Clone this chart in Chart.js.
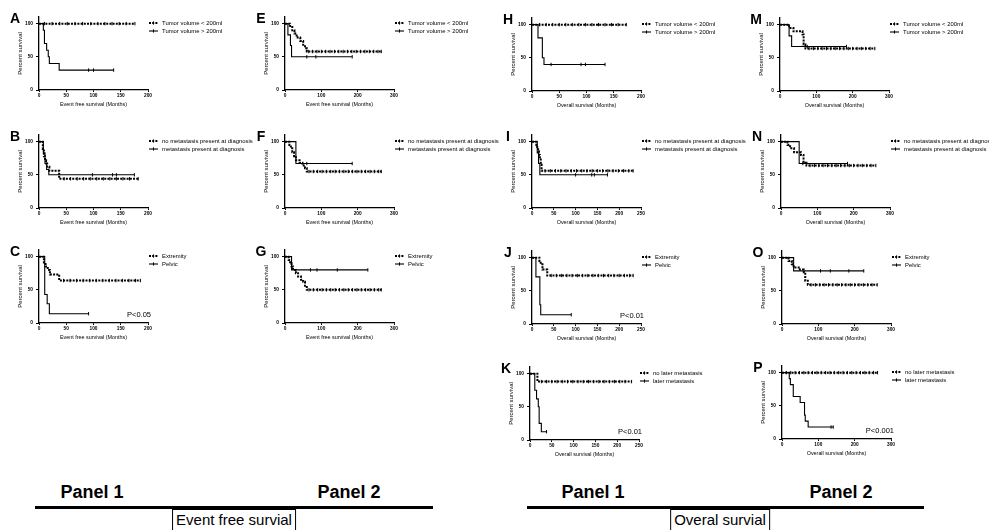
<!DOCTYPE html>
<html>
<head>
<meta charset="utf-8">
<script src="https://cdn.jsdelivr.net/npm/chart.js@4.4.1/dist/chart.umd.min.js"></script>
<style>
  html, body { margin: 0; padding: 0; background: #fff; }
  body { position: relative; width: 989px; height: 530px; overflow: hidden; }
  canvas { position: absolute; }
  .pname, .section { position: absolute; transform: translate(-50%, -50%); white-space: nowrap; color: #000;
    font-family: "Liberation Sans Narrow", "Arial Narrow", Arial, sans-serif; }
  .pname { font-weight: bold; font-size: 18px; }
  .section { font-size: 15px; border: 1px solid #000; padding: 1px 3px; line-height: 18px; }
  .rule { position: absolute; height: 3px; background: #000; }
</style>
</head>
<body>
<div class="pname" style="left:92px;top:492px">Panel 1</div>
<div class="pname" style="left:349px;top:492px">Panel 2</div>
<div class="rule" style="left:35px;top:506px;width:398px"></div>
<div class="section" style="left:234px;top:520px">Event free survial</div>
<div class="pname" style="left:593px;top:492px">Panel 1</div>
<div class="pname" style="left:841px;top:492px">Panel 2</div>
<div class="rule" style="left:527px;top:506px;width:397px"></div>
<div class="section" style="left:720px;top:520px">Overal survial</div>
<script>
// axis ticks
const yTicks = [0, 50, 100];
const ticks200 = [0, 50, 100, 150, 200];
const ticks250 = [0, 50, 100, 150, 200, 250];
const ticks300 = [0, 100, 200, 300];

const efsTitle = 'Event free survival (Months)';
const osTitle = 'Overall survival (Months)';

const volumeLabels = ['Tumor volume < 200ml', 'Tumor volume > 200ml'];
const metLabels = ['no metastasis present at diagnosis', 'metastasis present at diagnosis'];
const siteLabels = ['Extremity', 'Pelvic'];
const laterLabels = ['no later metastasis', 'later metastasis'];

// A - EFS, tumor volume
const aLowT = [0, 176];
const aLowS = [100, 100];
const aLowC = [10, 24, 38, 52, 66, 80, 95, 108, 121, 134, 147, 160, 176];
const aHighT = [0, 8, 10, 14, 17, 19, 37, 137];
const aHighS = [100, 90, 70, 60, 50, 40, 30, 30];
const aHighC = [91, 100, 137];

// B - EFS, metastasis at diagnosis
const bNoT = [0, 7, 9, 11, 13, 15, 19, 37, 182];
const bNoS = [100, 89, 78, 72, 67, 62, 56, 44, 44];
const bNoC = [46, 58, 70, 82, 94, 106, 118, 130, 142, 154, 166, 182];
const bMetT = [0, 8, 11, 14, 18, 175];
const bMetS = [100, 83, 67, 58, 50, 50];
const bMetC = [98, 135, 142, 175];

// C - EFS, site
const cExtT = [0, 9, 12, 16, 20, 37, 186];
const cExtS = [100, 91, 85, 80, 73, 64, 64];
const cExtC = [45, 57, 69, 81, 93, 105, 117, 129, 141, 153, 165, 177, 186];
const cPelT = [0, 10.5, 15, 19, 91];
const cPelS = [100, 43, 29, 14, 14];
const cPelC = [91];

// E - EFS, tumor volume
const eLowT = [0, 14, 20, 26, 32, 42, 50, 55, 60, 265];
const eLowS = [100, 95, 90, 85, 79, 74, 68, 63, 58, 58];
const eLowC = [64, 76, 88, 100, 112, 124, 136, 148, 160, 172, 184, 196, 208, 220, 232, 244, 256, 265];
const eHighT = [0, 8, 15, 18, 185];
const eHighS = [100, 83, 67, 50, 50];
const eHighC = [60, 85, 185];

// F - EFS, metastasis at diagnosis
const fNoT = [0, 12, 16, 20, 25, 30, 40, 48, 55, 60, 265];
const fNoS = [100, 95, 90, 84, 78, 72, 68, 64, 60, 55, 55];
const fNoC = [66, 78, 90, 102, 114, 126, 138, 150, 162, 174, 186, 198, 210, 222, 234, 246, 258, 265];
const fMetT = [0, 30, 185];
const fMetS = [100, 67, 67];
const fMetC = [60, 185];

// G - EFS, site
const gExtT = [0, 10, 14, 18, 22, 30, 36, 44, 50, 55, 60, 265];
const gExtS = [100, 95, 90, 85, 80, 75, 70, 65, 62, 56, 50, 50];
const gExtC = [66, 78, 90, 102, 114, 126, 138, 150, 162, 174, 186, 198, 210, 222, 234, 246, 258, 265];
const gPelT = [0, 18, 228];
const gPelS = [100, 80, 80];
const gPelC = [70, 88, 144, 228];

// H - OS, tumor volume
const hLowT = [0, 173];
const hLowS = [100, 100];
const hLowC = [14, 26, 38, 50, 62, 74, 86, 98, 110, 122, 134, 146, 158, 173];
const hHighT = [0, 11, 19, 22, 134];
const hHighS = [100, 80, 50, 40, 40];
const hHighC = [35, 90, 98, 134];

// I - OS, metastasis at diagnosis
const iNoT = [0, 10, 12, 14, 16, 18, 20, 22, 232];
const iNoS = [100, 95, 90, 85, 80, 75, 65, 56, 56];
const iNoC = [30, 42, 54, 66, 78, 90, 102, 114, 126, 138, 150, 162, 174, 186, 198, 210, 222, 232];
const iMetT = [0, 12, 15, 18, 173];
const iMetS = [100, 83, 67, 50, 50];
const iMetC = [100, 137, 143, 173];

// J - OS, site
const jExtT = [0, 17, 20, 24, 35, 232];
const jExtS = [100, 95, 90, 82, 73, 73];
const jExtC = [44, 56, 68, 80, 92, 104, 116, 128, 140, 152, 164, 176, 188, 200, 212, 224, 232];
const jPelT = [0, 9, 18, 20, 90];
const jPelS = [100, 71, 29, 14, 14];
const jPelC = [90];

// K - OS, later metastasis
const kNoT = [0, 17, 233];
const kNoS = [100, 88, 88];
const kNoC = [26, 38, 50, 62, 74, 86, 98, 110, 122, 134, 146, 158, 170, 182, 194, 206, 218, 233];
const kLaterT = [0, 11, 15, 19, 21, 26, 38];
const kLaterS = [100, 75, 62, 50, 25, 12.5, 12.5];
const kLaterC = [38];

// M - OS, tumor volume
const mLowT = [0, 25, 37, 62, 65, 70, 261];
const mLowS = [100, 95, 90, 85, 70, 64, 64];
const mLowC = [80, 92, 104, 116, 128, 140, 152, 164, 176, 188, 200, 212, 224, 236, 248, 261];
const mHighT = [0, 25, 32, 183];
const mHighS = [100, 83, 67, 67];
const mHighC = [75, 183];

// N - OS, metastasis at diagnosis
const nNoT = [0, 18, 25, 36, 55, 62, 70, 261];
const nNoS = [100, 95, 90, 84, 80, 68, 64, 64];
const nNoC = [80, 92, 104, 116, 128, 140, 152, 164, 176, 188, 200, 212, 224, 236, 248, 261];
const nMetT = [0, 50, 183];
const nMetS = [100, 67, 67];
const nMetC = [60, 183];

// O - OS, site
const oExtT = [0, 18, 27, 32, 46, 60, 64, 71, 262];
const oExtS = [100, 95, 90, 85, 82, 78, 65, 59, 59];
const oExtC = [80, 92, 104, 116, 128, 140, 152, 164, 176, 188, 200, 212, 224, 236, 248, 262];
const oPelT = [0, 32, 225];
const oPelS = [100, 80, 80];
const oPelC = [106, 133, 184, 225];

// P - OS, later metastasis
const pNoT = [0, 263];
const pNoS = [100, 100];
const pNoC = [12, 24, 36, 48, 60, 72, 84, 96, 108, 120, 132, 144, 156, 168, 180, 192, 204, 216, 228, 240, 252, 263];
const pLaterT = [0, 20, 23, 31, 50, 62, 64, 72, 141];
const pLaterS = [100, 91, 82, 64, 55, 36, 27, 18, 18];
const pLaterC = [135, 141];

// layout: x0 / y0 = pixel position of the axis origin on the page
const panels = [
  { letter: 'A', x0: 39,  y0: 90,  xTicks: ticks200, xTitle: efsTitle, labels: volumeLabels, groups: [[aLowT, aLowS, aLowC], [aHighT, aHighS, aHighC]] },
  { letter: 'B', x0: 39,  y0: 208, xTicks: ticks200, xTitle: efsTitle, labels: metLabels, groups: [[bNoT, bNoS, bNoC], [bMetT, bMetS, bMetC]] },
  { letter: 'C', x0: 39,  y0: 323, xTicks: ticks200, xTitle: efsTitle, labels: siteLabels, groups: [[cExtT, cExtS, cExtC], [cPelT, cPelS, cPelC]], p: 'P<0.05' },
  { letter: 'E', x0: 285, y0: 90,  xTicks: ticks300, xTitle: efsTitle, labels: volumeLabels, groups: [[eLowT, eLowS, eLowC], [eHighT, eHighS, eHighC]] },
  { letter: 'F', x0: 285, y0: 208, xTicks: ticks300, xTitle: efsTitle, labels: metLabels, groups: [[fNoT, fNoS, fNoC], [fMetT, fMetS, fMetC]] },
  { letter: 'G', x0: 285, y0: 323, xTicks: ticks300, xTitle: efsTitle, labels: siteLabels, groups: [[gExtT, gExtS, gExtC], [gPelT, gPelS, gPelC]] },
  { letter: 'H', x0: 532, y0: 91,  xTicks: ticks200, xTitle: osTitle, labels: volumeLabels, groups: [[hLowT, hLowS, hLowC], [hHighT, hHighS, hHighC]] },
  { letter: 'I', x0: 532, y0: 208, xTicks: ticks250, xTitle: osTitle, labels: metLabels, groups: [[iNoT, iNoS, iNoC], [iMetT, iMetS, iMetC]] },
  { letter: 'J', x0: 532, y0: 324, xTicks: ticks250, xTitle: osTitle, labels: siteLabels, groups: [[jExtT, jExtS, jExtC], [jPelT, jPelS, jPelC]], p: 'P<0.01' },
  { letter: 'K', x0: 530, y0: 440, xTicks: ticks250, xTitle: osTitle, labels: laterLabels, groups: [[kNoT, kNoS, kNoC], [kLaterT, kLaterS, kLaterC]], p: 'P<0.01' },
  { letter: 'M', x0: 780, y0: 91,  xTicks: ticks300, xTitle: osTitle, labels: volumeLabels, groups: [[mLowT, mLowS, mLowC], [mHighT, mHighS, mHighC]] },
  { letter: 'N', x0: 781, y0: 208, xTicks: ticks300, xTitle: osTitle, labels: metLabels, groups: [[nNoT, nNoS, nNoC], [nMetT, nMetS, nMetC]] },
  { letter: 'O', x0: 782, y0: 324, xTicks: ticks300, xTitle: osTitle, labels: siteLabels, groups: [[oExtT, oExtS, oExtC], [oPelT, oPelS, oPelC]] },
  { letter: 'P', x0: 782, y0: 439, xTicks: ticks300, xTitle: osTitle, labels: laterLabels, groups: [[pNoT, pNoS, pNoC], [pLaterT, pLaterS, pLaterC]], p: 'P<0.001' },
];

const FONT = 'Arial, "Liberation Sans", Helvetica, sans-serif';
const PAD_L = 2, PAD_T = 8, PAD_B = 1;
const Y_W = 30, X_H = 21;
const PLOT_W = 109, PLOT_H = 73;
const W = 256;
const H = PAD_T + PLOT_H + X_H + PAD_B;
const DASH = [2, 1.2];

// survival value of a step curve at time t
function survAt(times, surv, t) {
    let v = surv[0];
    for (let i = 0; i < times.length; i++) {
        if (times[i] <= t) v = surv[i];
    }
    return v;
}

// legend, panel letter and p value
const kmDecor = {
    id: 'kmDecor',
    afterDatasetsDraw(chart, args, opts) {
        const { ctx, chartArea: a } = chart;
        ctx.save();
        ctx.fillStyle = '#000';
        ctx.strokeStyle = '#000';
        ctx.font = '5.9px ' + FONT;
        ctx.textAlign = 'left';
        ctx.textBaseline = 'middle';
        chart.data.datasets.filter((d) => d.isCurve).forEach((d, i) => {
            const x = a.right + 1;
            const y = a.top + 6 + i * 8;
            ctx.lineWidth = d.borderWidth;
            ctx.setLineDash(d.borderDash);
            ctx.beginPath();
            ctx.moveTo(x, y);
            ctx.lineTo(x + 9, y);
            ctx.stroke();
            ctx.setLineDash([]);
            ctx.lineWidth = 1;
            ctx.beginPath();
            ctx.moveTo(x + 4.5, y - 1.6);
            ctx.lineTo(x + 4.5, y + 1.6);
            ctx.stroke();
            ctx.fillText(d.label, x + 13, y);
        });
        ctx.font = 'bold 14px ' + FONT;
        ctx.textAlign = 'center';
        ctx.fillText(opts.letter, a.left - 24, a.top + 2);
        if (opts.p) {
            ctx.font = '7.5px ' + FONT;
            ctx.textAlign = 'right';
            ctx.fillText(opts.p, a.right + 3, a.bottom - 8);
        }
        ctx.restore();
    },
};

function axisCommon(tickLen, pad) {
    return {
        grid: { drawOnChartArea: false, drawTicks: true, tickLength: tickLen, color: '#000', lineWidth: 1 },
        border: { display: true, color: '#000', width: 1.3 },
        ticks: {
            color: '#000',
            padding: pad,
            maxRotation: 0,
            autoSkip: false,
            font: { family: FONT, size: 4.8, weight: 'bold' },
        },
    };
}

function makePanel(p) {
    const canvas = document.createElement('canvas');
    canvas.width = W;
    canvas.height = H;
    canvas.style.left = (p.x0 - PAD_L - Y_W) + 'px';
    canvas.style.top = (p.y0 - PLOT_H - PAD_T) + 'px';
    document.body.appendChild(canvas);

    const datasets = [];
    p.groups.forEach(([times, surv, cens], i) => {
        const dashed = i === 0;
        datasets.push({
            label: p.labels[i],
            isCurve: true,
            data: times.map((t, k) => ({ x: t, y: surv[k] })),
            stepped: true,
            borderColor: '#000',
            borderWidth: dashed ? 2 : 1.1,
            borderDash: dashed ? DASH : [],
            pointRadius: 0,
            fill: false,
        });
        datasets.push({
            label: '',
            data: cens.map((t) => ({ x: t, y: survAt(times, surv, t) })),
            showLine: false,
            pointStyle: 'line',
            pointRotation: 90,
            pointRadius: 1.7,
            pointBorderWidth: 1,
            pointBorderColor: '#000',
        });
    });

    const xMax = p.xTicks[p.xTicks.length - 1];
    const xAxis = axisCommon(2, 1);
    const yAxis = axisCommon(3, 3);

    new Chart(canvas, {
        type: 'line',
        data: { datasets },
        plugins: [kmDecor],
        options: {
            responsive: false,
            animation: false,
            events: [],
            devicePixelRatio: 1,
            layout: { padding: { left: PAD_L, top: PAD_T, bottom: PAD_B, right: W - PAD_L - Y_W - PLOT_W } },
            plugins: {
                legend: { display: false },
                tooltip: { enabled: false },
                kmDecor: { letter: p.letter, p: p.p },
            },
            scales: {
                x: {
                    ...xAxis,
                    type: 'linear',
                    min: 0,
                    max: xMax,
                    afterBuildTicks: (s) => { s.ticks = p.xTicks.map((v) => ({ value: v })); },
                    afterFit: (s) => { s.height = X_H; },
                    title: { display: true, text: p.xTitle, color: '#000', font: { family: FONT, size: 5.4 }, padding: { top: 0, bottom: 3 } },
                },
                y: {
                    ...yAxis,
                    min: 0,
                    max: 110,
                    afterBuildTicks: (s) => { s.ticks = yTicks.map((v) => ({ value: v })); },
                    afterFit: (s) => { s.width = Y_W; },
                    title: { display: true, text: 'Percent survival', color: '#000', font: { family: FONT, size: 6 }, padding: { top: 8, bottom: 0 } },
                },
            },
        },
    });
}

panels.forEach(makePanel);
</script>
</body>
</html>
